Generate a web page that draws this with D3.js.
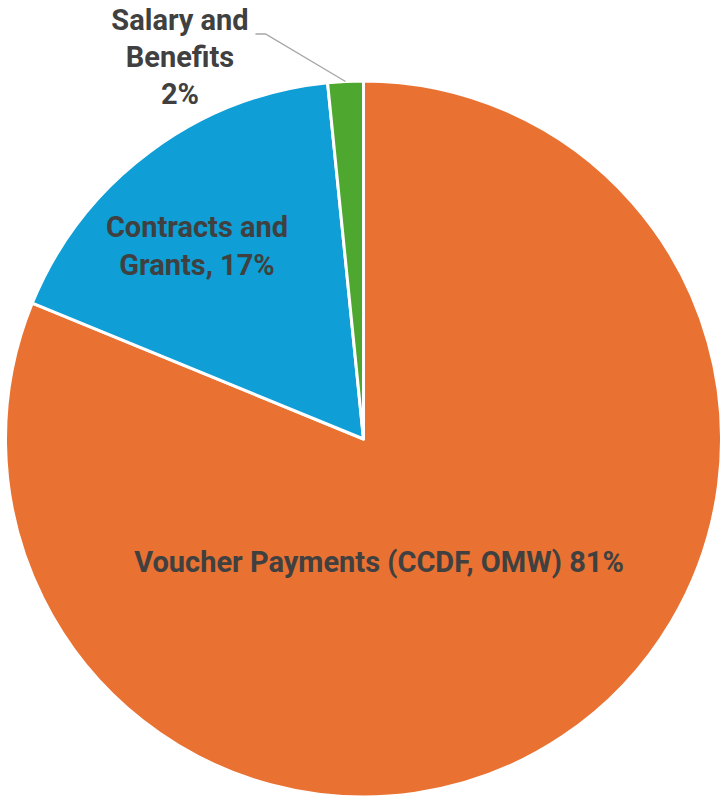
<!DOCTYPE html>
<html>
<head>
<meta charset="utf-8">
<script src="https://cdn.jsdelivr.net/npm/d3@7"></script>
<style>
  html, body { margin: 0; padding: 0; background: #fff; }
  svg text { font-family: Roboto, "Open Sans", sans-serif; font-weight: 700; fill: #404040; }
</style>
</head>
<body>
<div id="chart"></div>
<script>
!(function () {
  'use strict'
  // data, clockwise from 12 o'clock
  const categories = ['Voucher Payments (CCDF, OMW)', 'Contracts and Grants', 'Salary and Benefits'];
  const values = [81.2, 17.2, 1.6];
  const colors = ['#E97132', '#0F9ED5', '#4EA72E'];
  const labelLines = [
    ['Voucher Payments (CCDF, OMW) 81%'],
    ['Contracts and', 'Grants, 17%'],
    ['Salary and', 'Benefits', '2%']
  ];

  const width = 725, height = 798;
  const cx = 363.5, cy = 439, r = 358;

  const svg = d3.select('#chart').append('svg')
    .attr('width', width)
    .attr('height', height);

  const pie = d3.pie().sort(null).value(d => d)(values);
  const arc = d3.arc().innerRadius(0).outerRadius(r);

  const g = svg.append('g').attr('transform', 'translate(' + cx + ',' + cy + ')');

  g.selectAll('path')
    .data(pie)
    .enter()
    .append('path')
    .attr('d', arc)
    .attr('fill', (d, i) => colors[i])
    .attr('stroke', '#fff')
    .attr('stroke-width', 3)
    .attr('stroke-linejoin', 'round');

  // label placement (offsets from pie centre)
  const labelPos = [
    { x: 15.5, y: 133, lh: 0 },
    { x: -166.5, y: -202, lh: 38 },
    { x: -183.5, y: -409, lh: 37 }
  ];

  labelLines.forEach(function (lines, i) {
    const t = g.append('text')
      .attr('text-anchor', 'middle')
      .attr('font-size', 29);
    lines.forEach(function (s, j) {
      t.append('tspan')
        .attr('x', labelPos[i].x)
        .attr('y', labelPos[i].y + j * labelPos[i].lh)
        .text(s);
    });
  });

  // leader line for the small slice
  const sal = pie[2];
  const mid = (sal.startAngle + sal.endAngle) / 2;
  const px = Math.sin(mid) * r, py = -Math.cos(mid) * r;
  g.append('polyline')
    .attr('points', [[-108, -405], [-98, -405], [px, py]].map(p => p.join(',')).join(' '))
    .attr('fill', 'none')
    .attr('stroke', '#A6A6A6')
    .attr('stroke-width', 1.3);
}())
</script>
</body>
</html>
